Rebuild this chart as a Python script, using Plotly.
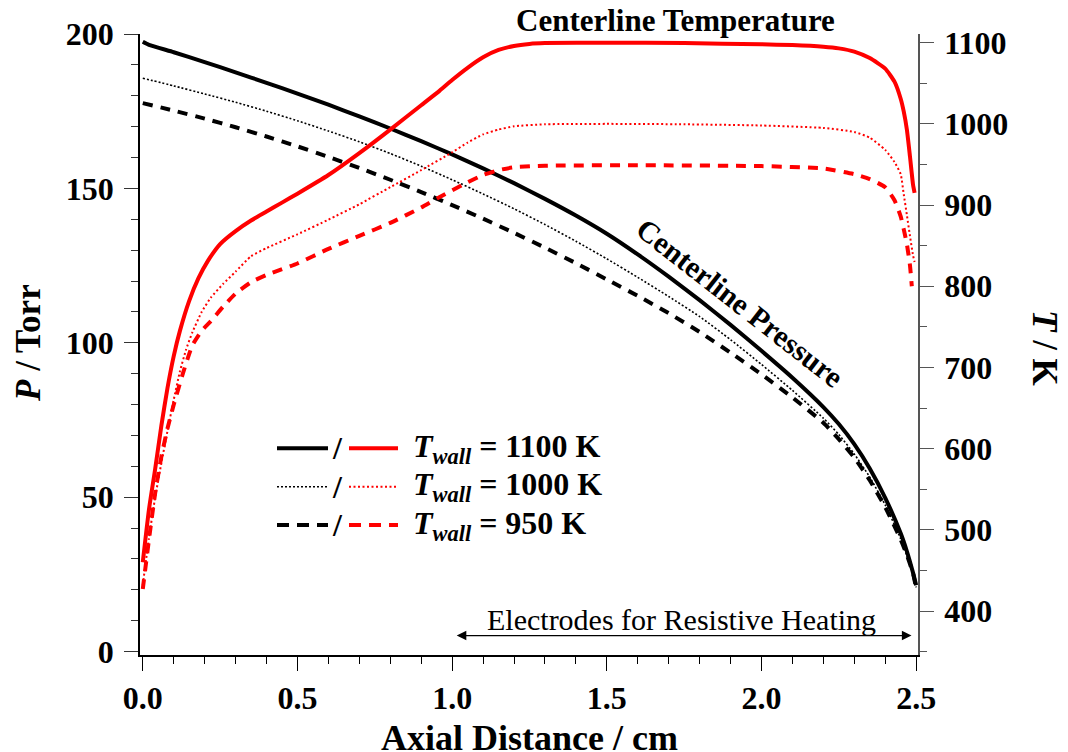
import plotly.graph_objects as go

# ---------------- data ----------------
# Centerline pressure (Torr) vs axial distance (cm)
p1100_x = [0.0, 0.02, 0.1, 0.2, 0.3, 0.4, 0.5, 0.6, 0.7, 0.8, 0.9, 1.0, 1.1, 1.2, 1.3, 1.4, 1.5,
           1.6, 1.7, 1.8, 1.9, 2.0, 2.1, 2.2, 2.25, 2.3, 2.35, 2.4, 2.45, 2.47, 2.49, 2.5]
p1100_y = [197.5, 196.5, 194.1, 190.9, 187.6, 184.2, 180.7, 177.1, 173.3, 169.4, 165.3, 161.0, 156.5,
           151.7, 146.6, 141.2, 135.3, 128.6, 121.4, 113.8, 105.8, 97.4, 88.7, 79.2, 73.7, 67.2,
           59.3, 49.8, 38.3, 32.5, 25.5, 21.5]

p1000_x = [0.0, 0.1, 0.2, 0.3, 0.4, 0.5, 0.6, 0.7, 0.8, 0.9, 1.0, 1.1, 1.2, 1.3, 1.4, 1.5, 1.6,
           1.7, 1.8, 1.9, 2.0, 2.1, 2.2, 2.25, 2.3, 2.35, 2.4, 2.45, 2.47, 2.49, 2.5]
p1000_y = [185.7, 183.2, 180.6, 177.9, 175.0, 171.9, 168.6, 165.1, 161.3, 157.2, 152.8, 148.2, 143.4,
           138.3, 132.9, 127.2, 121.2, 115.0, 108.5, 101.0, 93.0, 84.6, 75.6, 70.3, 64.0, 56.5,
           47.5, 36.5, 31.0, 24.5, 20.8]

p950_x = [0.0, 0.1, 0.2, 0.3, 0.4, 0.5, 0.6, 0.7, 0.8, 0.9, 1.0, 1.1, 1.2, 1.3, 1.4, 1.5, 1.6,
          1.7, 1.8, 1.9, 2.0, 2.1, 2.2, 2.25, 2.3, 2.35, 2.4, 2.45, 2.47, 2.49, 2.5]
p950_y = [177.6, 175.2, 172.6, 169.8, 166.8, 163.6, 160.2, 156.6, 152.8, 148.8, 144.6, 140.2, 135.6,
          130.8, 125.8, 120.5, 115.2, 109.6, 103.5, 96.8, 89.8, 82.3, 74.1, 68.8, 62.8, 55.5,
          46.8, 36.3, 31.3, 25.3, 20.5]

# Centerline temperature (K) vs axial distance (cm)
t1100_x = [0.0, 0.02, 0.04, 0.06, 0.08, 0.1, 0.12, 0.15, 0.18, 0.21, 0.25, 0.3, 0.35, 0.4, 0.45,
           0.5, 0.6, 0.7, 0.8, 0.9, 0.96, 1.0, 1.05, 1.1, 1.15, 1.2, 1.25, 1.3, 1.5, 1.75, 2.0,
           2.1, 2.2, 2.25, 2.3, 2.35, 2.4, 2.43, 2.45, 2.46, 2.47, 2.48, 2.49, 2.495]
t1100_y = [460, 525, 575, 628, 675, 714, 745, 782, 810, 831, 852, 868, 881, 892, 903,
           914, 937, 964, 993, 1023, 1041, 1054, 1069, 1082, 1091, 1096, 1098.5, 1099.5, 1100, 1099.5, 1098,
           1097, 1095, 1093, 1089, 1081, 1068, 1052, 1031, 1015, 993, 960, 925, 915]

t1000_x = [0.0, 0.02, 0.04, 0.06, 0.08, 0.1, 0.12, 0.14, 0.16, 0.19, 0.22, 0.26, 0.3, 0.35, 0.4,
           0.5, 0.6, 0.7, 0.8, 0.9, 1.0, 1.05, 1.1, 1.15, 1.2, 1.3, 1.5, 1.75, 2.0, 2.2, 2.3, 2.35,
           2.4, 2.43, 2.45, 2.46, 2.47, 2.48, 2.49, 2.495]
t1000_y = [432, 490, 540, 582, 622, 660, 695, 722, 743, 768, 786, 803, 818, 837, 847,
           864, 882, 901, 922, 943, 965, 977, 987, 993, 997, 999.5, 1000, 999.5, 998, 995, 990, 983,
           968, 953, 938, 913, 888, 862, 838, 830]

t950_x = [0.0, 0.02, 0.04, 0.06, 0.08, 0.1, 0.13, 0.16, 0.19, 0.22, 0.26, 0.3, 0.35, 0.4, 0.5,
          0.6, 0.7, 0.8, 0.9, 0.96, 1.0, 1.05, 1.1, 1.15, 1.2, 1.3, 1.6, 2.0, 2.2, 2.3, 2.35, 2.4,
          2.43, 2.45, 2.46, 2.47, 2.48, 2.486]
t950_y = [427, 488, 545, 590, 625, 654, 693, 727, 745, 757, 775, 791, 805, 814, 828,
          846, 862, 878, 897, 910, 918, 928, 937, 943, 946.5, 948.5, 949, 948, 945, 938, 932, 922,
          906, 886, 870, 852, 826, 800]

legend_labels = ["1100 K", "1000 K", "950 K"]

# ---------------- styling ----------------
SERIF = "Liberation Serif"
RED = "#ff0000"
BLACK = "#000000"
styles = [
    dict(width=4, dash="solid"),
    dict(width=1.6, dash="2px,2px"),
    dict(width=4, dash="10px,8px"),
]
red_styles = [
    dict(width=4, dash="solid"),
    dict(width=2, dash="2px,2.5px"),
    dict(width=4, dash="10px,8px"),
]

fig = go.Figure()

for (xs, ys), st in zip([(p1100_x, p1100_y), (p1000_x, p1000_y), (p950_x, p950_y)], styles):
    fig.add_trace(go.Scatter(x=xs, y=ys, mode="lines", yaxis="y",
                             line=dict(color=BLACK, shape="spline", smoothing=0.5, **st),
                             showlegend=False, hoverinfo="skip"))

for (xs, ys), st in zip([(t1100_x, t1100_y), (t1000_x, t1000_y), (t950_x, t950_y)], red_styles):
    fig.add_trace(go.Scatter(x=xs, y=ys, mode="lines", yaxis="y2",
                             line=dict(color=RED, shape="spline", smoothing=0.5, **st),
                             showlegend=False, hoverinfo="skip"))

tickfont = dict(family=SERIF, size=32, color="black", weight="bold")

fig.update_layout(
    width=1068, height=752,
    margin=dict(l=140, r=150, t=34, b=97),
    paper_bgcolor="white", plot_bgcolor="white",
    showlegend=False,
    xaxis=dict(range=[-0.009, 2.506], dtick=0.5, tick0=0, tickformat=".1f",
               showgrid=False, zeroline=False, showline=True, linecolor="black", linewidth=1.5,
               ticks="outside", ticklen=14, tickwidth=1.2, tickcolor="black",
               minor=dict(dtick=0.1, tick0=0, ticks="outside", ticklen=7, tickwidth=1.2, tickcolor="black"),
               tickfont=tickfont, ticklabelstandoff=0),
    yaxis=dict(range=[-1.1, 200], dtick=50, tick0=0,
               showgrid=False, zeroline=False, showline=True, linecolor="black", linewidth=1.5,
               ticks="outside", ticklen=14, tickwidth=1.2, tickcolor="#333",
               minor=dict(dtick=10, tick0=0, ticks="outside", ticklen=7, tickwidth=1.2, tickcolor="#333"),
               tickfont=tickfont, ticklabelstandoff=4),
    yaxis2=dict(range=[345.8, 1110.7], dtick=100, tick0=0, overlaying="y", side="right", anchor="x",
                showgrid=False, zeroline=False, showline=True, linecolor="#555", linewidth=1.5,
                ticks="outside", ticklen=14, tickwidth=1.2, tickcolor="#555",
                minor=dict(dtick=50, tick0=0, ticks="outside", ticklen=7, tickwidth=1.2, tickcolor="#555"),
                tickfont=tickfont, ticklabelstandoff=4),
)

def px2paper(px, py):
    return (px - 140) / 778.0, (655 - py) / 621.0

ann = []
# axis titles
x, y = px2paper(529, 738)
ann.append(dict(text="<b>Axial Distance / cm</b>", x=x, y=y, xref="paper", yref="paper",
                showarrow=False, xanchor="center", yanchor="middle",
                font=dict(family=SERIF, size=36, color="black")))
x, y = px2paper(28, 343)
ann.append(dict(text="<b><i>P</i> / Torr</b>", x=x, y=y, xref="paper", yref="paper", textangle=-90,
                showarrow=False, xanchor="center", yanchor="middle",
                font=dict(family=SERIF, size=35, color="black")))
x, y = px2paper(1045, 348)
ann.append(dict(text="<b><i>T</i> / K</b>", x=x, y=y, xref="paper", yref="paper", textangle=90,
                showarrow=False, xanchor="center", yanchor="middle",
                font=dict(family=SERIF, size=35, color="black")))
# curve labels
x, y = px2paper(675, 21)
ann.append(dict(text="<b>Centerline Temperature</b>", x=x, y=y, xref="paper", yref="paper",
                showarrow=False, xanchor="center", yanchor="middle",
                font=dict(family=SERIF, size=31, color="black")))
x, y = px2paper(740, 302)
ann.append(dict(text="<b>Centerline Pressure</b>", x=x, y=y, xref="paper", yref="paper", textangle=38,
                showarrow=False, xanchor="center", yanchor="middle",
                font=dict(family=SERIF, size=30, color="black")))
x, y = px2paper(681, 619)
ann.append(dict(text="Electrodes for Resistive Heating", x=x, y=y, xref="paper", yref="paper",
                showarrow=False, xanchor="center", yanchor="middle",
                font=dict(family=SERIF, size=30, color="black")))
# double-headed arrow
ann.append(dict(text="", x=2.485, y=5.2, ax=1.01, ay=5.2, xref="x", yref="y", axref="x", ayref="y",
                showarrow=True, arrowhead=2, arrowside="end+start", arrowsize=1.6, arrowwidth=1.2,
                arrowcolor="black", standoff=0, startstandoff=0))

# custom legend
rows_py = [448.3, 486.7, 525.0]
shapes = []
for i, py in enumerate(rows_py):
    x0, yy = px2paper(277, py)
    x1, _ = px2paper(328, py)
    shapes.append(dict(type="line", xref="paper", yref="paper", x0=x0, x1=x1, y0=yy, y1=yy,
                       line=dict(color=BLACK, width=styles[i]["width"],
                                 dash=styles[i]["dash"] if i != 2 else "12px,8px")))
    x0, _ = px2paper(349, py)
    x1, _ = px2paper(398, py)
    shapes.append(dict(type="line", xref="paper", yref="paper", x0=x0, x1=x1, y0=yy, y1=yy,
                       line=dict(color=RED, width=red_styles[i]["width"],
                                 dash=red_styles[i]["dash"] if i != 2 else "12px,8px")))
    xs, _ = px2paper(337, py)
    ann.append(dict(text="<b>/</b>", x=xs, y=yy, xref="paper", yref="paper", showarrow=False,
                    xanchor="center", yanchor="middle", font=dict(family=SERIF, size=32, color="black")))
    xt, _ = px2paper(411, py)
    ann.append(dict(text="<b><i>T</i><sub><i>wall</i></sub> = " + legend_labels[i] + "</b>",
                    x=xt, y=yy, xref="paper", yref="paper", showarrow=False,
                    xanchor="left", yanchor="middle", font=dict(family=SERIF, size=32, color="black")))

fig.update_layout(annotations=ann, shapes=shapes)
fig.write_html("out.html")
